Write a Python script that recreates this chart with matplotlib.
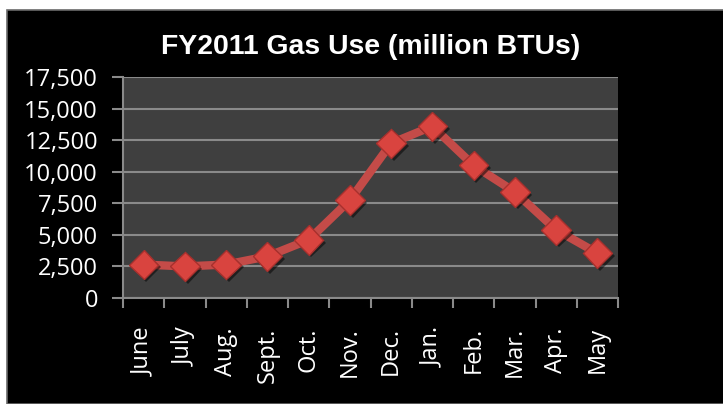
import matplotlib
matplotlib.use("Agg")
import matplotlib.pyplot as plt
from matplotlib.patches import Rectangle
import matplotlib.patheffects as pe

months = ["June", "July", "Aug.", "Sept.", "Oct.", "Nov.", "Dec.", "Jan.", "Feb.", "Mar.", "Apr.", "May"]
gas_use = [2650, 2500, 2650, 3300, 4600, 7750, 12250, 13600, 10500, 8400, 5400, 3550]
y_ticks = [0, 2500, 5000, 7500, 10000, 12500, 15000, 17500]
y_labels = ["0", "2,500", "5,000", "7,500", "10,000", "12,500", "15,000", "17,500"]
title = "FY2011 Gas Use (million BTUs)"

W, H = 723, 404
fig = plt.figure(figsize=(W / 100, H / 100), dpi=100, facecolor="white")

# black chart area with thin gray border
bg = Rectangle((7 / W, 0), 1 - 7 / W + 0.01, 1 - 10 / H, transform=fig.transFigure,
               facecolor="black", edgecolor="#6a6a6a", linewidth=1.2, zorder=-5)
fig.patches.append(bg)

ax = fig.add_axes([123 / W, (H - 298) / H, 495 / W, 221 / H])
ax.set_zorder(1)
ax.set_facecolor("#3f3f3f")

x = list(range(len(months)))
ax.plot(x, gas_use, color="#c44b48", linewidth=6, solid_capstyle="round",
        solid_joinstyle="round", zorder=3)
ax.plot(x, gas_use, linestyle="none", marker="D", markersize=15,
        markerfacecolor="#d9443f", markeredgecolor="#a8302d", markeredgewidth=1.0,
        zorder=4,
        path_effects=[pe.SimplePatchShadow(offset=(2, -2), shadow_rgbFace="black", alpha=0.5),
                      pe.Normal()])

ax.set_xlim(-0.5, len(months) - 0.5)
ax.set_ylim(0, 17500)

ax.set_yticks(y_ticks)
ax.set_yticklabels(y_labels)
ax.yaxis.grid(True, color="#8a8a8a", linewidth=1.5, zorder=1)
ax.set_axisbelow(True)

ax.set_xticks(x)
ax.set_xticklabels(months, rotation=90, va="top", ha="center")
ax.set_xticks([i - 0.5 for i in range(len(months) + 1)], minor=True)
ax.tick_params(axis="x", which="major", length=0, pad=21)
ax.tick_params(axis="x", which="minor", length=7, width=1.5, color="#8a8a8a")
ax.tick_params(axis="y", length=8, width=1.5, color="#8a8a8a", pad=10)

for lab in ax.get_xticklabels() + ax.get_yticklabels():
    lab.set_fontfamily("Open Sans")
    lab.set_fontsize(17)
    lab.set_color("white")

for side in ["top", "right"]:
    ax.spines[side].set_visible(False)
for side in ["left", "bottom"]:
    ax.spines[side].set_color("#8a8a8a")
    ax.spines[side].set_linewidth(1.5)

fig.text(371 / W, 1 - 47 / H, title, ha="center", va="center", color="white",
         fontsize=20.4, fontweight="bold", family="Liberation Sans")

fig.savefig("out.png", dpi=100, facecolor="white")
